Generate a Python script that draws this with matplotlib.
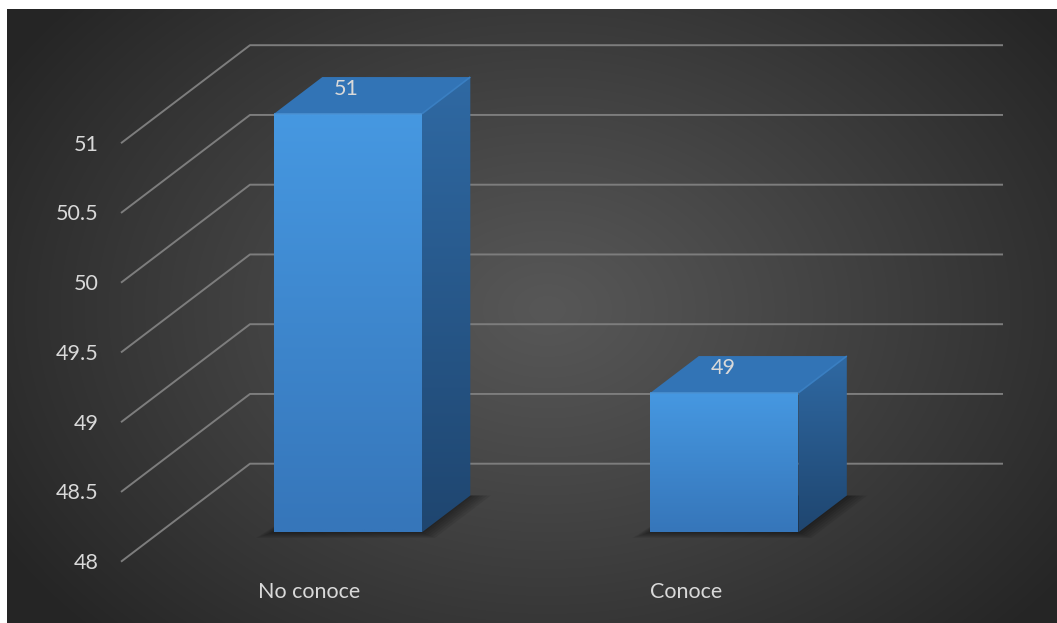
import numpy as np
import matplotlib.pyplot as plt
from matplotlib.patches import Polygon
from matplotlib.colors import to_rgb

plt.rcParams['font.family'] = ['Lato', 'DejaVu Sans']

# datos
categorias = ['No conoce', 'Conoce']
valores = [51, 49]
ticks_y = [48, 48.5, 49, 49.5, 50, 50.5, 51]
y_base = 48

# perspectiva 3D: desplazamiento de la pared del fondo respecto al plano frontal
DX, DY = 0.3426, 0.7025
prof0, prof1 = 0.30, 0.675   # profundidad de la cara frontal y trasera de las barras
ancho = 0.393
color_texto = '#d9d9d9'
tam_fuente = 15.5


def proy(x, v, d):
    return (x + d * DX, v + d * DY)


def degradado(c_abajo, c_arriba, n=64):
    a, b = np.array(to_rgb(c_abajo)), np.array(to_rgb(c_arriba))
    t = np.linspace(0, 1, n)[:, None]
    return (a + (b - a) * t)[:, None, :]


fig = plt.figure(figsize=(10.57, 6.23), dpi=100)
fig.patch.set_facecolor('white')

# fondo oscuro con degradado radial
bg = fig.add_axes([7 / 1057, 0, 1050 / 1057, 614 / 623])
bg.axis('off')
yy, xx = np.mgrid[0:614, 0:1050]
r = np.sqrt(((xx - 540) / 640.0) ** 2 + ((yy - 300) / 470.0) ** 2)
r = np.clip(r, 0, 1) ** 1.1
c_centro, c_borde = np.array(to_rgb('#575757')), np.array(to_rgb('#252525'))
img = c_centro + (c_borde - c_centro) * r[..., None]
bg.imshow(img, aspect='auto', interpolation='bilinear')

ax = fig.add_axes([0, 0, 1, 1])
ax.patch.set_alpha(0)
ax.axis('off')
ax.set_xlim(-309.25 / 376.5, (1057 - 309.25) / 376.5)
ax.set_ylim(47.5606, 52.0265)
ax.set_autoscale_on(False)

# líneas de división: pared izquierda y pared del fondo
x_ini, x_fin = -0.5, len(categorias) - 0.5
for t in ticks_y:
    ax.plot([x_ini, x_ini + DX, x_fin + DX], [t, t + DY, t + DY],
            color='#7d7d7d', lw=1.4, solid_capstyle='butt', zorder=1)
    ax.annotate(f'{t:g}', (x_ini, t), xytext=(-16, -1), textcoords='offset points',
                ha='right', va='center', color=color_texto, fontsize=tam_fuente)

for i, (cat, v) in enumerate(zip(categorias, valores)):
    xl, xr = i - ancho / 2, i + ancho / 2

    # sombra en el suelo
    for k in range(6):
        g = 0.004 + 0.006 * k
        sombra = [proy(xl - g * 1.4, y_base - g * 1.2, prof0), proy(xr + g, y_base - g * 1.2, prof0),
                  proy(xr + g * 1.6, y_base, prof1), proy(xl, y_base, prof1)]
        ax.add_patch(Polygon(sombra, closed=True, facecolor='black', edgecolor='none',
                             alpha=0.08, zorder=2))

    frente = [proy(xl, y_base, prof0), proy(xr, y_base, prof0),
              proy(xr, v, prof0), proy(xl, v, prof0)]
    lado = [proy(xr, y_base, prof0), proy(xr, y_base, prof1),
            proy(xr, v, prof1), proy(xr, v, prof0)]
    tapa = [proy(xl, v, prof0), proy(xr, v, prof0),
            proy(xr, v, prof1), proy(xl, v, prof1)]

    # cara frontal con degradado
    p_frente = Polygon(frente, closed=True, facecolor='none', edgecolor='none', zorder=3)
    ax.add_patch(p_frente)
    im = ax.imshow(degradado('#3676ba', '#4698e1'), origin='lower', aspect='auto',
                   extent=[frente[0][0], frente[1][0], frente[0][1], frente[2][1]],
                   zorder=3, interpolation='bilinear')
    im.set_clip_path(p_frente)

    # cara lateral
    p_lado = Polygon(lado, closed=True, facecolor='none', edgecolor='none', zorder=3)
    ax.add_patch(p_lado)
    im = ax.imshow(degradado('#1f4670', '#2f69a3'), origin='lower', aspect='auto',
                   extent=[lado[0][0], lado[1][0], lado[0][1], lado[2][1]],
                   zorder=3, interpolation='bilinear')
    im.set_clip_path(p_lado)

    # cara superior
    ax.add_patch(Polygon(tapa, closed=True, facecolor='#3274b6', edgecolor='none', zorder=4))
    ax.plot([tapa[0][0], tapa[1][0]], [tapa[0][1], tapa[1][1]], color='#4a93d6',
            lw=1.2, zorder=5, solid_capstyle='butt')
    ax.plot([tapa[1][0], tapa[2][0]], [tapa[1][1], tapa[2][1]], color='#3a7fc2',
            lw=1.2, zorder=5, solid_capstyle='butt')

    # etiqueta de valor
    ax.annotate(f'{v}', proy(i, v, prof0), xytext=(-1, 18), textcoords='offset points',
                ha='center', va='center', color=color_texto, fontsize=tam_fuente, zorder=6)

    # etiqueta de categoría
    ax.annotate(cat, (i, y_base), xytext=(0, -22), textcoords='offset points',
                ha='center', va='center', color=color_texto, fontsize=tam_fuente)

fig.savefig('out.png', dpi=100, facecolor='white')
